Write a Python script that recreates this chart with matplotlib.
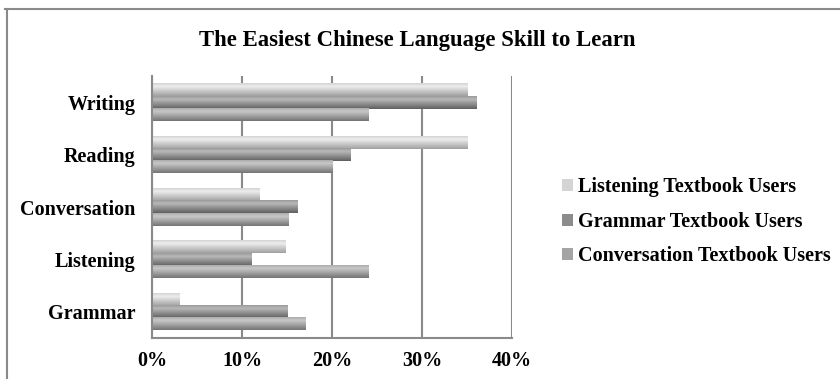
import numpy as np
import matplotlib
matplotlib.use("Agg")
import matplotlib.pyplot as plt
from matplotlib.colors import LinearSegmentedColormap
from matplotlib.lines import Line2D
from matplotlib.patches import Patch

categories = ["Grammar", "Listening", "Conversation", "Reading", "Writing"]
series_names = ["Listening Textbook Users", "Grammar Textbook Users", "Conversation Textbook Users"]
listening_users = [3.1, 14.8, 11.9, 35.1, 35.1]
grammar_users = [15.1, 11.1, 16.2, 22.1, 36.1]
conversation_users = [17.1, 24.1, 15.2, 20.1, 24.1]
xticks = [0, 10, 20, 30, 40]
xtick_labels = ["0%", "10%", "20%", "30%", "40%"]

series_values = [listening_users, grammar_users, conversation_users]
# gradient (bottom colour, top colour) per series
grads = [("#a0a0a0", "#ededed"), ("#606060", "#b8b8b8"), ("#747474", "#c8c8c8")]
mids = ["#d4d4d4", "#8c8c8c", "#a4a4a4"]

plt.rcParams['font.family'] = ['Liberation Serif', 'DejaVu Serif']

fig = plt.figure(figsize=(8.4, 3.79), dpi=100)
ax = fig.add_axes([0.181, 0.108, 0.4286, 0.691])

y = np.arange(len(categories))
h = 0.237
offsets = [h, 0, -h]
for vals, off, (c0, c1), mc, name in zip(series_values, offsets, grads, mids, series_names):
    bars = ax.barh(y + off, vals, height=h, color=mc, label=name, zorder=2, linewidth=0)
    grad = np.linspace(0, 1, 64).reshape(-1, 1)
    grad = np.clip(1 - np.abs(grad - 0.75) / 0.75, 0, 1)
    for p in bars.patches:
        x0, y0, w, hh = p.get_x(), p.get_y(), p.get_width(), p.get_height()
        ax.imshow(grad, extent=[x0, x0 + w, y0, y0 + hh], origin="lower",
                  cmap=LinearSegmentedColormap.from_list("g2", [c0, c1]), aspect="auto",
                  zorder=3, interpolation="bilinear", vmin=0, vmax=1)

ax.set_xlim(0, 40)
ax.set_ylim(-0.5, 4.5)
ax.set_xticks(xticks)
ax.set_xticklabels(xtick_labels, fontsize=14.5, fontweight="bold")
ax.set_yticks(y)
ax.set_yticklabels(categories, fontsize=14.5, fontweight="bold")
ax.tick_params(axis="x", length=0, pad=9)
ax.tick_params(axis="y", length=0, pad=12)
ax.grid(axis="x", color="#8a8a8a", linewidth=1.5, zorder=1)
ax.set_axisbelow(True)
for s in ["top", "right"]:
    ax.spines[s].set_visible(False)
for s in ["left", "bottom"]:
    ax.spines[s].set_color("#8a8a8a")
    ax.spines[s].set_linewidth(1.5)
    ax.spines[s].set_zorder(4)

handles = [Patch(facecolor=mc, edgecolor="none") for mc in mids]
fig.legend(handles, series_names, loc="center left", bbox_to_anchor=(0.647, 0.415),
           frameon=False, prop={"size": 14.5, "weight": "bold"}, handlelength=0.55,
           handleheight=0.55, handletextpad=0.25, labelspacing=0.72)

fig.text(0.497, 0.893, "The Easiest Chinese Language Skill to Learn", ha="center", va="center",
         fontsize=16.4, fontweight="bold")

fig.add_artist(Line2D([5 / 840, 1.0], [1 - 9 / 379, 1 - 9 / 379], color="#8a8a8a", linewidth=1.5))
fig.add_artist(Line2D([7 / 840, 7 / 840], [0, 1 - 9 / 379], color="#8a8a8a", linewidth=1.5))

fig.savefig("out.png", dpi=100)
